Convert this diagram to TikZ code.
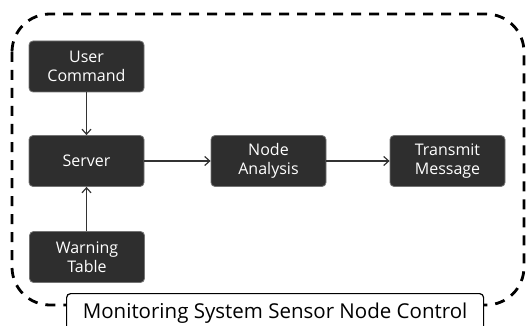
\documentclass[tikz,border=0pt]{standalone}
\usepackage{fontspec}
\setmainfont{Open Sans}
\usetikzlibrary{arrows.meta}
\tikzset{
  block/.style={draw=black!55, line width=0.8pt, fill=black!82, rounded corners=4pt,
    text=white, align=center, minimum width=115pt, minimum height=51pt,
    inner sep=0pt, font=\fontsize{16}{19}\selectfont},
  flow/.style={draw=black!80, line width=1.2pt, -{Straight Barb[length=5pt,width=9pt,line width=1.2pt]}},
  frame/.style={line width=2.8pt, dash pattern=on 10pt off 8pt, rounded corners=38pt},
  tag/.style={draw=black, line width=1.2pt, fill=white, rounded corners=4pt,
    font=\fontsize{20.5}{24}\selectfont, anchor=north west, inner sep=0pt,
    minimum width=417pt, minimum height=40pt, text depth=0pt}
}
\begin{document}
\begin{tikzpicture}[x=1pt,y=-1pt]
  \useasboundingbox (0,0) rectangle (527,326);
  % dashed outline of the control system
  \draw[frame] (12,14) rectangle (524,305);
  % processing blocks
  \node[block] (user)  at (86.5,66.5)  {User\\Command};
  \node[block] (srv)   at (86.5,161)   {Server};
  \node[block] (warn)  at (87,257)     {Warning\\Table};
  \node[block] (ana)   at (268.5,161)  {Node\\Analysis};
  \node[block] (tx)    at (447.5,161)  {Transmit\\Message};
  % data flow
  \draw[flow] (user) -- (srv);
  \draw[flow] (warn.north -| srv) -- (srv);
  \draw[flow] (srv) -- (ana);
  \draw[flow] (ana) -- (tx);
  % caption box
  \node[tag] (cap) at (66,293) {\raisebox{5pt}{Monitoring System Sensor Node Control}};
\end{tikzpicture}
\end{document}
